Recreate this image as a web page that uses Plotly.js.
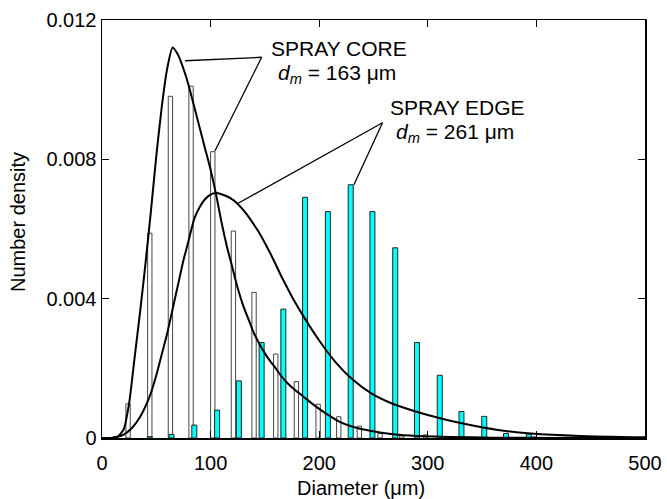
<!DOCTYPE html>
<html>
<head>
<meta charset="utf-8">
<script src="https://cdn.plot.ly/plotly-3.0.1.min.js"></script>
<style>html,body{margin:0;padding:0;background:#fff;}#chart{width:667px;height:499px;}</style>
</head>
<body>
<div id="chart"></div>
<script>
// Histogram bins (diameter, µm) and number densities
const coreBinX = [24, 44, 63, 82, 102, 121, 140, 160, 179, 199, 218, 237, 256, 276, 298, 398];
const coreBinY = [0.00098, 0.00588, 0.00981, 0.0101, 0.00822, 0.00594, 0.00418, 0.00241, 0.00162, 0.00097, 0.00061, 0.00034, 0.00013, 0.00006, 0.00009, 0.00003];

const edgeBinX = [44, 64, 85, 106, 126, 147, 167, 187, 208, 229, 249, 270, 290, 311, 331, 352, 372, 393];
const edgeBinY = [0.00004, 0.0001, 0.00037, 0.0008, 0.00164, 0.00274, 0.0037, 0.00691, 0.0065, 0.00727, 0.0065, 0.00546, 0.00274, 0.0018, 0.00076, 0.00062, 0.00013, 0.00011];

// Fitted distribution curves
const coreCurveX = [0, 5, 10, 15, 20, 25, 30, 35, 40, 45, 50, 55, 60, 65, 70, 75, 80, 85, 90, 95, 100, 105, 110, 115, 120, 125, 130, 135, 140, 145, 150, 155, 160, 165, 170, 175, 185, 195, 205, 218, 230, 248, 270, 290, 320, 360, 420, 500];
const coreCurveY = [0, 0, 0.00001, 0.00005, 0.00025, 0.0010, 0.0023, 0.0036, 0.0050, 0.0065, 0.0081, 0.0095, 0.0106, 0.01121, 0.0110, 0.0106, 0.0101, 0.0095, 0.0089, 0.0083, 0.0077, 0.0070, 0.0062, 0.0055, 0.0049, 0.0043, 0.0038, 0.0034, 0.0030, 0.0027, 0.00243, 0.0022, 0.0020, 0.00178, 0.0016, 0.00145, 0.0012, 0.00095, 0.00073, 0.00048, 0.00033, 0.0002, 0.0001, 0.00006, 0.00003, 0.00001, 0, 0];

const edgeCurveX = [0, 10, 20, 28, 35, 44, 50, 55, 60, 65, 70, 75, 80, 85, 90, 95, 100, 105, 110, 115, 120, 125, 130, 135, 140, 145, 150, 155, 160, 165, 170, 175, 187, 200, 215, 230, 248, 267, 288, 315, 345, 370, 395, 440, 500];
const edgeCurveY = [0, 0.00001, 0.0001, 0.0003, 0.0006, 0.0012, 0.0018, 0.0024, 0.0030, 0.0037, 0.0044, 0.0051, 0.0057, 0.0063, 0.00663, 0.00686, 0.00699, 0.00703, 0.00700, 0.00694, 0.00685, 0.00672, 0.00655, 0.00635, 0.00612, 0.00588, 0.0056, 0.0053, 0.00498, 0.00465, 0.00435, 0.00405, 0.00342, 0.0028, 0.00218, 0.0017, 0.00128, 0.00099, 0.00077, 0.00054, 0.00034, 0.00021, 0.00013, 0.00006, 0.00002];

const xTicks = [0, 100, 200, 300, 400, 500];
const yTicks = [0, 0.004, 0.008, 0.012];
const yTickText = ['0', '0.004', '0.008', '0.012'];

const FONT = 'Liberation Sans, Arial, Helvetica, sans-serif';

const traces = [
  {type: 'bar', x: coreBinX, y: coreBinY, width: 4.0,
   marker: {color: '#ffffff', line: {color: '#444444', width: 1}}},
  {type: 'bar', x: edgeBinX, y: edgeBinY, width: 4.6,
   marker: {color: '#00ffff', line: {color: '#222222', width: 1}}},
  {type: 'scatter', mode: 'lines', x: coreCurveX, y: coreCurveY,
   line: {color: '#000', width: 2, shape: 'spline', smoothing: 0.6}},
  {type: 'scatter', mode: 'lines', x: edgeCurveX, y: edgeCurveY,
   line: {color: '#000', width: 2, shape: 'spline', smoothing: 0.6}}
];

const axisCommon = {
  showline: true, linecolor: '#000', linewidth: 1.5, mirror: 'ticks',
  ticks: 'inside', ticklen: 7, tickwidth: 1.2, tickcolor: '#000',
  showgrid: false, zeroline: false,
  tickfont: {family: FONT, size: 20, color: '#000'}
};

const layout = {
  width: 667, height: 499,
  margin: {l: 102, r: 22, t: 20, b: 61},
  paper_bgcolor: '#fff', plot_bgcolor: '#fff',
  showlegend: false, barmode: 'overlay', bargap: 0,
  xaxis: Object.assign({}, axisCommon, {
    range: [0, 500], tickmode: 'array', tickvals: xTicks, ticklabelstandoff: 6
  }),
  yaxis: Object.assign({}, axisCommon, {
    range: [0, 0.012], tickmode: 'array', tickvals: yTicks, ticktext: yTickText
  }),
  shapes: [
    {type: 'line', xref: 'x', yref: 'y', x0: 147, y0: 0.01093, x1: 76.5, y1: 0.01083, line: {color: '#000', width: 1.3}},
    {type: 'line', xref: 'x', yref: 'y', x0: 147, y0: 0.01093, x1: 104, y1: 0.00824, line: {color: '#000', width: 1.3}},
    {type: 'line', xref: 'x', yref: 'y', x0: 258.3, y0: 0.00905, x1: 125.4, y1: 0.00674, line: {color: '#000', width: 1.3}},
    {type: 'line', xref: 'x', yref: 'y', x0: 258.3, y0: 0.00905, x1: 232, y1: 0.00727, line: {color: '#000', width: 1.3}}
  ],
  annotations: [
    {xref: 'x', yref: 'y', x: 154, y: 0.01118, xanchor: 'left', yanchor: 'middle', showarrow: false,
     text: 'SPRAY CORE', font: {family: FONT, size: 21, color: '#000'}},
    {xref: 'x', yref: 'y', x: 160, y: 0.01045, xanchor: 'left', yanchor: 'middle', showarrow: false,
     text: '<i>d</i><sub><i>m</i></sub> = 163 μm', font: {family: FONT, size: 21, color: '#000'}},
    {xref: 'x', yref: 'y', x: 263, y: 0.00948, xanchor: 'left', yanchor: 'middle', showarrow: false,
     text: 'SPRAY EDGE', font: {family: FONT, size: 21, color: '#000'}},
    {xref: 'x', yref: 'y', x: 268.5, y: 0.00875, xanchor: 'left', yanchor: 'middle', showarrow: false,
     text: '<i>d</i><sub><i>m</i></sub> = 261 μm', font: {family: FONT, size: 21, color: '#000'}},
    {xref: 'paper', yref: 'paper', x: (361 - 102) / 543, y: -(488 - 438) / 418, xanchor: 'center', yanchor: 'middle', showarrow: false,
     text: 'Diameter (μm)', font: {family: FONT, size: 20, color: '#000'}},
    {xref: 'paper', yref: 'paper', x: -(102 - 18) / 543, y: (438 - 222) / 418, xanchor: 'center', yanchor: 'middle', showarrow: false,
     textangle: -90, text: 'Number density', font: {family: FONT, size: 20, color: '#000'}}
  ]
};

Plotly.newPlot('chart', traces, layout, {staticPlot: true, displayModeBar: false});
</script>
</body>
</html>
